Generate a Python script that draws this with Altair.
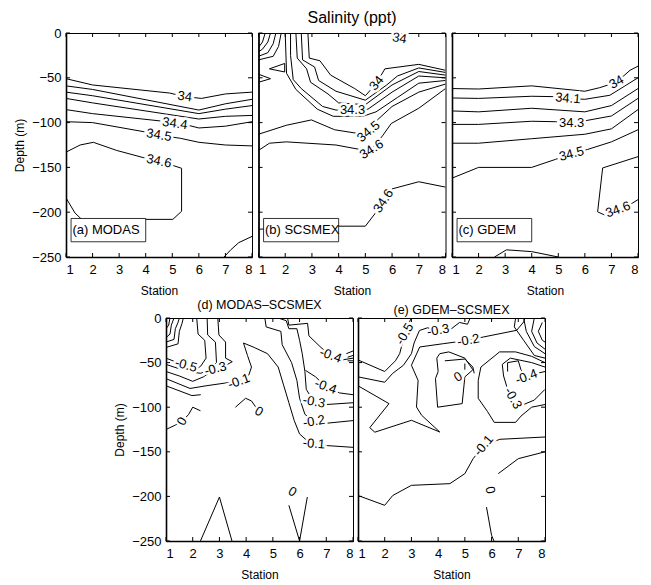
import altair as alt
import pandas as pd

FONT = "Liberation Sans"

STATIONS = [1, 2, 3, 4, 5, 6, 7, 8]
DEPTH_TICKS = [0, -50, -100, -150, -200, -250]

# Tag box in data units: station from/to, depth from/to, text anchor
TAG_BOX = [1.19, 4.0, -207, -233]
TAG_TEXT_AT = [1.24, -220]

# (a) MODAS salinity: contour paths as (station, depth) pairs
MODAS_PATHS = [
    [(1, -51), (2, -58), (4.9, -67), (5.47, -71), (6.1, -73), (7, -68), (8, -66)],
    [(1, -59), (2, -63), (6, -86), (7, -79), (8, -74)],
    [(1, -66), (2, -70), (6, -90), (7, -85), (8, -81)],
    [(1, -73), (2, -78), (6, -96), (7, -93), (8, -92)],
    [(1, -85.5), (2, -90), (4.5, -98), (5.1, -101), (5.6, -103), (6, -106), (7, -104), (8, -99)],
    [(1, -99), (2, -100), (3.9, -110), (4.5, -114), (5.3, -117.5), (6, -122), (7, -125), (8, -126)],
    [(1, -133), (1.53, -125), (2.03, -122), (2.9, -131), (3.9, -139), (4.5, -143),
     (5.04, -148), (5.35, -151), (5.35, -199), (5.02, -208), (1.59, -208), (1.34, -201), (1, -184)],
    [(6.95, -250), (7.2, -242), (7.5, -234), (8, -227)],
]
MODAS_LABELS = [
    (5.47, -71, "34", 8),
    (5.1, -101, "34.4", 8),
    (4.5, -114, "34.5", 9),
    (4.5, -143, "34.6", 12),
]

# (b) SCSMEX salinity
SCSMEX_PATHS = [
    [(1.25, 0), (1.15, -10), (1.0, -16)],
    [(1.45, 0), (1.35, -10), (1.15, -18), (1.0, -21)],
    [(1.65, 0), (1.55, -12), (1.35, -22), (1.0, -26)],
    [(1.85, 0), (1.75, -15), (1.55, -26), (1.0, -30)],
    [(1.41, -40), (1.98, -34), (1.98, -43.5), (1.41, -40)],
    [(1.0, -46), (1.45, -51), (1.0, -55)],
    [(2.85, 0), (2.9, -28), (3.3, -31), (3.7, -47), (4.6, -62), (5.0, -70), (5.42, -56),
     (5.73, -40), (7, -35), (8, -41.6)],
    [(2.6, 0), (2.65, -30), (3.1, -38), (3.25, -53), (3.9, -65), (5.0, -75), (5.8, -58),
     (6.2, -48), (7, -39), (8, -44)],
    [(2.4, 0), (2.45, -28), (2.8, -40), (2.95, -55), (3.6, -68), (4.0, -78), (5.0, -80),
     (6.0, -58), (7, -43), (8, -47)],
    [(2.2, 0), (2.2, -25), (2.3, -52), (2.6, -62), (3.4, -82), (3.9, -86), (4.52, -86),
     (5.1, -85), (6.0, -66), (7, -48), (8, -50)],
    [(2.0, 0), (2.05, -45), (2.4, -63), (3.2, -85), (3.8, -93), (4.9, -93), (5.4, -88),
     (6.2, -72), (7, -56), (8, -53)],
    [(1, -113), (2.04, -103), (2.98, -97), (3.85, -108), (4.7, -112), (5.12, -110),
     (5.45, -97), (6.0, -82), (7, -66), (8, -57)],
    [(1, -131), (1.41, -123), (2.04, -121.5), (3.9, -125), (4.8, -130), (5.23, -130),
     (5.66, -114), (5.97, -101), (7, -84), (8, -62)],
    [(1, -219), (3.98, -215.6), (5.0, -215.6), (5.35, -202), (5.68, -187.5), (6.0, -174),
     (7, -166), (8, -172)],
]
SCSMEX_LABELS = [
    (6.28, -6, "34", 10),
    (5.42, -56, "34", 310),
    (4.52, -86, "34.3", 0),
    (5.12, -110, "34.5", 320),
    (5.23, -130, "34.6", 328),
    (5.68, -187.5, "34.6", 304),
]

# (c) GDEM salinity
GDEM_PATHS = [
    [(1, -62), (2, -62.5), (4, -59), (6, -65), (6.56, -61), (7.19, -55), (7.7, -41.6), (8, -37)],
    [(1, -72.5), (2, -73), (4, -70.6), (4.8, -71), (5.36, -73), (6, -74), (6.94, -69.5), (8, -50)],
    [(1, -87), (2, -88), (4, -84), (6, -88), (7, -81), (8, -62)],
    [(1, -102), (2, -102), (4, -98.5), (4.9, -99), (5.5, -100), (6, -98), (7, -92.6), (8, -73)],
    [(1, -123), (2, -123), (4, -118), (6, -113), (7, -107), (8, -85.5)],
    [(1, -162), (2, -150), (4, -150), (4.9, -141), (5.5, -135), (6.1, -130), (7, -121.5), (8, -108)],
    [(8, -138), (6.67, -150.6), (6.48, -199.6), (6.73, -203), (7.25, -197), (7.78, -190), (8, -186)],
    [(2.6, -250), (3.05, -242), (4, -244), (5, -250)],
]
GDEM_LABELS = [
    (7.19, -55, "34", 330),
    (5.36, -73, "34.1", 5),
    (5.5, -100, "34.3", 0),
    (5.5, -135, "34.5", 345),
    (7.25, -197, "34.6", 340),
]

# (d) MODAS minus SCSMEX
DIFF_MODAS_PATHS = [
    [(1.0, -12), (1.1, -8), (1.15, 0)],
    [(1.0, -22), (1.15, -18), (1.2, -8), (1.3, 0)],
    [(1.0, -27), (1.3, -24), (1.35, -12), (1.45, -5), (1.5, 0)],
    [(1.0, -33), (1.45, -29), (1.5, -15), (1.6, -6), (1.65, 0)],
    [(1, -45), (1.35, -49), (1.75, -53), (2.1, -58), (2.3, -54), (2.5, -45), (2.45, -25),
     (2.2, -18), (2.15, 0)],
    [(1, -52), (1.8, -60), (2.3, -62), (2.6, -58), (2.89, -50), (2.85, -27), (2.56, -19), (2.54, 0)],
    [(1, -60), (1.5, -65), (2.0, -71), (2.4, -66), (2.85, -57), (3.3, -52), (3.48, -49),
     (3.23, -45), (3.23, -27), (2.98, -19), (2.94, 0)],
    [(1, -68), (1.9, -79), (2.5, -76), (3.2, -73), (3.73, -71), (4.1, -64), (4.2, -55),
     (4.05, -42), (3.9, -28), (4.3, -33), (4.8, -40), (5.2, -55), (5.4, -75), (5.6, -95),
     (5.8, -115), (6.0, -130), (6.3, -138), (6.54, -141), (7, -143), (8, -145)],
    [(1, -76), (1.97, -87), (2.3, -86)],
    [(1, -125), (1.35, -120), (1.6, -116), (1.85, -108), (2.0, -100), (2.29, -104)],
    [(3.6, -100), (3.98, -90), (4.2, -93), (4.48, -105)],
    [(4.7, 0), (4.75, -10), (5.3, -15), (5.35, -30), (5.7, -50), (5.9, -70), (6.0, -90),
     (6.2, -108), (6.54, -116), (7, -118), (8, -115)],
    [(5.2, 0), (5.5, -3), (5.6, -12), (5.9, -12), (6.0, -25), (6.1, -40), (6.2, -60),
     (6.25, -80), (6.54, -94), (7, -97), (8, -95)],
    [(6.22, -58.7), (6.6, -66), (6.98, -77), (7.5, -84), (8, -86)],
    [(5.55, 0), (5.6, -8), (6.3, -6), (6.35, -20), (6.8, -33), (7.16, -42), (7.6, -47), (8, -45)],
    [(7.75, -40), (8, -37)],
    [(7.8, -44), (8, -42)],
    [(7.8, -48), (8, -48)],
    [(2.29, -250), (3.0, -200.7), (3.47, -250)],
    [(5.6, -210), (6.0, -250), (6.29, -200.7)],
]
DIFF_MODAS_LABELS = [
    (1.75, -53, "-0.5", 15),
    (2.85, -57, "-0.3", 345),
    (3.73, -71, "-0.1", 340),
    (4.48, -105, "0", 30),
    (1.6, -116, "0", 300),
    (7.16, -42, "-0.4", 20),
    (6.98, -77, "-0.4", 20),
    (6.54, -94, "-0.3", 10),
    (6.54, -116, "-0.2", 350),
    (6.54, -141, "-0.1", 5),
    (5.73, -195, "0", 30),
]

# (e) GDEM minus SCSMEX
DIFF_GDEM_PATHS = [
    [(1, -47), (2, -60), (2.4, -48), (2.56, -40), (2.75, -18), (2.9, -6), (3.0, 0)],
    [(1, -66), (2, -72), (2.3, -62), (2.7, -53), (3.0, -40), (3.1, -28), (3.3, -14), (3.6, -11),
     (4, -13.8), (4.5, -12), (4.8, -5), (5.1, -7), (5.2, 0)],
    [(1, -76), (2.16, -96), (1.44, -123), (1.63, -128), (3, -114.7), (4.06, -127.8), (3.38, -109),
     (3.19, -99.8), (3.25, -70), (3, -53), (3.31, -32.5), (4.19, -28.8), (5.13, -25), (5.69, -21.3),
     (6.94, -13.8), (7.2, -4.5), (7.25, 0)],
    [(4.06, -40), (3.95, -45), (4.0, -60), (3.9, -68), (3.98, -100), (4.9, -96), (5.0, -66),
     (5.3, -58), (5.0, -45), (4.4, -38), (4.06, -40)],
    [(4.25, -48), (5.0, -46), (5.3, -55), (5.35, -62)],
    [(5.0, -51), (5.0, -58)],
    [(8, -50), (7.5, -43), (6.9, -38), (6.3, -38), (5.6, -55), (5.5, -70), (5.5, -90), (5.85, -105),
     (6.1, -117), (6.9, -117), (7.1, -110), (7.5, -100), (8, -97)],
    [(8, -55), (7.5, -50), (6.7, -45), (6.4, -52), (6.45, -65), (6.6, -80), (6.8, -90), (7.2, -97),
     (7.6, -92), (8, -80)],
    [(6.6, -60), (6.6, -50), (7.0, -48), (7.1, -58), (7.3, -66), (7.7, -62), (8, -60)],
    [(6.9, 0), (6.85, -10), (7.2, -25), (7.6, -42), (8, -45)],
    [(7.2, 0), (7.3, -15), (7.6, -32), (8, -40)],
    [(7.6, 0), (7.5, -15), (7.7, -28), (8, -35)],
    [(7.9, -5), (7.75, -15), (7.9, -25), (8, -27)],
    [(1, -199), (2, -210), (2.3, -199), (3, -187.6), (4.44, -185.7), (5, -174.5), (5.31, -157.7),
     (5.7, -143), (6.31, -136), (8, -133.4)],
    [(6.25, -174.5), (7, -157.7), (8, -150)],
    [(5.81, -212), (6.0, -243.6), (6.09, -250)],
]
DIFF_GDEM_LABELS = [
    (2.75, -18, "-0.5", 300),
    (4.0, -13.8, "-0.3", 350),
    (5.13, -25, "-0.2", 350),
    (4.75, -66, "0", 330),
    (7.3, -66, "-0.4", 340),
    (6.8, -90, "-0.3", 60),
    (5.7, -143, "-0.1", 310),
    (5.94, -193, "0", 80),
]


def path_frame(paths):
    rows = []
    for k, path in enumerate(paths):
        for j, (s, d) in enumerate(path):
            rows.append({"path": k, "seq": j, "station": s, "depth": d})
    return pd.DataFrame(rows)


def label_frame(labels):
    return pd.DataFrame(labels, columns=["station", "depth", "text", "angle"])


def panel(paths, labels, width, height, tag=None, title=None, depth_axis=False):
    xs = alt.Scale(domain=[1, 8], nice=False, zero=False)
    ys = alt.Scale(domain=[-250, 0], nice=False, zero=False)
    x_axis = alt.Axis(values=STATIONS, format="d", title="Station", ticks=False, grid=False)
    if depth_axis:
        y_axis = alt.Axis(values=DEPTH_TICKS, format="d", title="Depth (m)", ticks=False, grid=False)
    else:
        y_axis = alt.Axis(values=DEPTH_TICKS, labels=False, title=None, ticks=False, grid=False)

    def X(field):
        return alt.X(field, scale=xs, axis=x_axis)

    def Y(field):
        return alt.Y(field, scale=ys, axis=y_axis)

    contours = alt.Chart(path_frame(paths)).mark_line(
        color="black", strokeWidth=1, clip=True
    ).encode(x=X("station:Q"), y=Y("depth:Q"), detail="path:N", order="seq:Q")

    # inward-pointing ticks on all four sides of the box
    st = pd.DataFrame({"station": STATIONS})
    dp = pd.DataFrame({"depth": DEPTH_TICKS})
    tick = dict(color="black", strokeWidth=1)
    t_bottom = alt.Chart(st).mark_rule(**tick).encode(
        x=X("station:Q"), y=alt.value(height), y2=alt.value(height - 4))
    t_top = alt.Chart(st).mark_rule(**tick).encode(
        x=X("station:Q"), y=alt.value(0), y2=alt.value(4))
    t_left = alt.Chart(dp).mark_rule(**tick).encode(
        y=Y("depth:Q"), x=alt.value(0), x2=alt.value(4))
    t_right = alt.Chart(dp).mark_rule(**tick).encode(
        y=Y("depth:Q"), x=alt.value(width), x2=alt.value(width - 4))

    layers = [contours, t_bottom, t_top, t_left, t_right]

    if tag:
        box = pd.DataFrame([{
            "station": TAG_BOX[0], "s2": TAG_BOX[1], "depth": TAG_BOX[2], "d2": TAG_BOX[3],
            "ts": TAG_TEXT_AT[0], "td": TAG_TEXT_AT[1], "tag": tag,
        }])
        layers.append(alt.Chart(box).mark_rect(fill="white", stroke="black", strokeWidth=0.8).encode(
            x=X("station:Q"), x2="s2:Q", y=Y("depth:Q"), y2="d2:Q"))
        layers.append(alt.Chart(box).mark_text(
            font=FONT, fontSize=13, align="left", baseline="middle", color="black"
        ).encode(x=X("ts:Q"), y=Y("td:Q"), text="tag:N"))

    # contour labels: a white halo first, then the black text on top
    lab = label_frame(labels)
    enc = dict(x=X("station:Q"), y=Y("depth:Q"), text="text:N",
               angle=alt.Angle("angle:Q", scale=None))
    layers.append(alt.Chart(lab).mark_text(
        font=FONT, fontSize=13, fill="white", stroke="white", strokeWidth=5,
        align="center", baseline="middle").encode(**enc))
    layers.append(alt.Chart(lab).mark_text(
        font=FONT, fontSize=13, color="black",
        align="center", baseline="middle").encode(**enc))

    ch = alt.layer(*layers).properties(width=width, height=height)
    if title:
        ch = ch.properties(title=alt.TitleParams(
            title[0], fontSize=title[1], fontWeight="normal", font=FONT, color="black", offset=title[2]))
    return ch


pa = panel(MODAS_PATHS, MODAS_LABELS, 186, 224, tag="(a) MODAS", depth_axis=True)
pb = panel(SCSMEX_PATHS, SCSMEX_LABELS, 187, 224, tag="(b) SCSMEX", title=("Salinity (ppt)", 16, 5))
pc = panel(GDEM_PATHS, GDEM_LABELS, 186, 224, tag="(c) GDEM")
pd_ = panel(DIFF_MODAS_PATHS, DIFF_MODAS_LABELS, 187, 223,
            title=("(d) MODAS\u2013SCSMEX", 12.5, 1), depth_axis=True)
pe = panel(DIFF_GDEM_PATHS, DIFF_GDEM_LABELS, 187, 223, title=("(e) GDEM\u2013SCSMEX", 12.5, 1))

spacer = alt.Chart(pd.DataFrame({"station": [1]})).mark_text(text="").encode(
    x=alt.value(0)).properties(width=95, height=223, view=alt.ViewBackground(stroke="transparent"))

top = alt.hconcat(pa, pb, pc, spacing=6.5, bounds="flush")
bottom = alt.hconcat(spacer, pd_, pe, spacing=5, bounds="flush")

chart = alt.vconcat(top, bottom, spacing=1).properties(
    padding={"left": 13, "top": 9, "right": 5, "bottom": 5}
).configure_view(
    stroke="black", strokeWidth=1
).configure_axis(
    domainColor="black", domainWidth=1.6,
    labelFont=FONT, labelFontSize=13, labelColor="black",
    titleFont=FONT, titleFontSize=12, titleFontWeight="normal", titleColor="black",
).configure_axisX(labelPadding=6, titlePadding=9).configure_axisY(labelPadding=5, titlePadding=5)

chart.save("out.html", embed_options={"renderer": "svg", "actions": False})
